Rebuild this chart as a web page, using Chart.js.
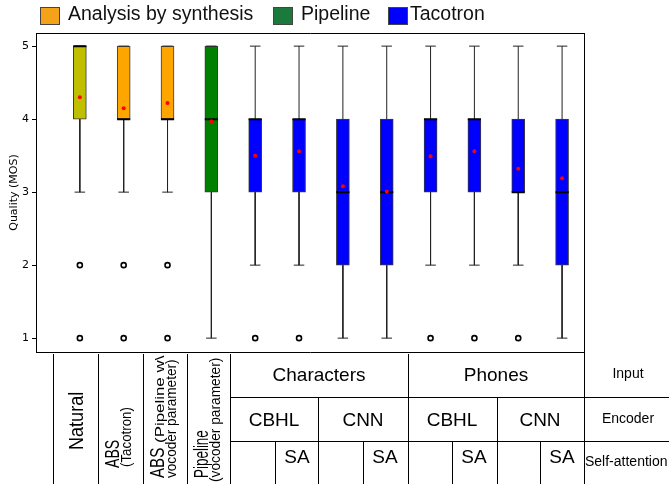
<!DOCTYPE html>
<html><head><meta charset="utf-8">
<script src="https://cdn.jsdelivr.net/npm/chart.js@4.4.1/dist/chart.umd.min.js"></script>
<style>
html,body{margin:0;padding:0;background:#fff;}
#wrap{position:relative;width:669px;height:484px;overflow:hidden;font-family:"Liberation Sans",Arial,sans-serif;color:#000;}
#c{position:absolute;left:0;top:0;}
.sq{position:absolute;width:18px;height:16px;border:1px solid #444;}
.lt{position:absolute;font-size:19.5px;line-height:19px;white-space:nowrap;color:#111;}
.vl{position:absolute;width:1px;background:#000;}
.hl{position:absolute;height:1px;background:#000;}
.t{position:absolute;white-space:nowrap;line-height:1;transform:translate(-50%,-50%);}
.r{position:absolute;white-space:nowrap;transform-origin:0 0;}
</style></head>
<body><div id="wrap">
<canvas id="c" width="669" height="484"></canvas>

<div class="sq" style="left:40px;top:7px;background:#F5A21B"></div>
<div class="lt" style="left:68px;top:4px">Analysis by synthesis</div>
<div class="sq" style="left:273px;top:7px;background:#1B7A3B"></div>
<div class="lt" style="left:301px;top:4px">Pipeline</div>
<div class="sq" style="left:388px;top:7px;background:#0000FF"></div>
<div class="lt" style="left:410px;top:4px">Tacotron</div>

<div class="vl" style="left:53px;top:354px;height:130px"></div>
<div class="vl" style="left:98px;top:354px;height:130px"></div>
<div class="vl" style="left:143px;top:354px;height:130px"></div>
<div class="vl" style="left:187px;top:354px;height:130px"></div>
<div class="vl" style="left:230px;top:354px;height:130px"></div>
<div class="vl" style="left:408px;top:354px;height:130px"></div>
<div class="vl" style="left:584px;top:352px;height:132px"></div>
<div class="vl" style="left:318px;top:397px;height:87px"></div>
<div class="vl" style="left:497px;top:397px;height:87px"></div>
<div class="vl" style="left:275px;top:441px;height:43px"></div>
<div class="vl" style="left:363px;top:441px;height:43px"></div>
<div class="vl" style="left:452px;top:441px;height:43px"></div>
<div class="vl" style="left:540px;top:441px;height:43px"></div>
<div class="hl" style="left:230px;top:397px;width:439px"></div>
<div class="hl" style="left:230px;top:441px;width:439px"></div>

<div class="t" style="left:319px;top:374px;font-size:19px">Characters</div>
<div class="t" style="left:496px;top:374px;font-size:19px">Phones</div>
<div class="t" style="left:628px;top:373px;font-size:14px">Input</div>
<div class="t" style="left:274px;top:419px;font-size:19px">CBHL</div>
<div class="t" style="left:363px;top:419px;font-size:19px">CNN</div>
<div class="t" style="left:452px;top:419px;font-size:19px">CBHL</div>
<div class="t" style="left:540px;top:419px;font-size:19px">CNN</div>
<div class="t" style="left:628px;top:418px;font-size:14px">Encoder</div>
<div class="t" style="left:297px;top:456px;font-size:19px">SA</div>
<div class="t" style="left:385px;top:456px;font-size:19px">SA</div>
<div class="t" style="left:474px;top:456px;font-size:19px">SA</div>
<div class="t" style="left:562px;top:456px;font-size:19px">SA</div>
<div class="t" style="left:585px;top:461px;font-size:14px;transform:translate(0,-50%)">Self-attention</div>

<div class="r" style="left:75px;top:450px;font-size:21px;line-height:21px;transform:rotate(-90deg) translate(0,-50%) scaleX(0.86)">Natural</div>
<div class="r" style="left:111px;top:468px;font-size:21px;line-height:21px;transform:rotate(-90deg) translate(0,-50%) scaleX(0.67)">ABS</div>
<div class="r" style="left:126px;top:467px;font-size:14px;line-height:14px;transform:rotate(-90deg) translate(0,-50%) scaleX(0.95)">(Tacotron)</div>
<div class="r" style="left:156px;top:478px;font-size:21px;line-height:21px;transform:rotate(-90deg) translate(0,-50%) scaleX(0.72)">ABS</div>
<div class="r" style="left:159px;top:443px;font-size:13px;line-height:13px;transform:rotate(-90deg) translate(0,-50%) scaleX(1.3)">(Pipeline w\</div>
<div class="r" style="left:171px;top:478px;font-size:14px;line-height:14px;transform:rotate(-90deg) translate(0,-50%) scaleX(0.97)">vocoder parameter)</div>
<div class="r" style="left:200px;top:478px;font-size:21px;line-height:21px;transform:rotate(-90deg) translate(0,-50%) scaleX(0.64)">Pipeline</div>
<div class="r" style="left:215px;top:482px;font-size:14px;line-height:14px;transform:rotate(-90deg) translate(0,-50%) scaleX(0.98)">(vocoder parameter)</div>
</div>
<script>
// ---- data ----
const categories = ['Natural','ABS (Tacotron)','ABS (Pipeline w\\ vocoder parameter)','Pipeline (vocoder parameter)',
  'Characters CBHL','Characters CBHL SA','Characters CNN','Characters CNN SA',
  'Phones CBHL','Phones CBHL SA','Phones CNN','Phones CNN SA'];
const q1 =          [4,4,4,3,3,3,2,2,3,3,3,2];
const q3 =          [5,5,5,5,4,4,4,4,4,4,4,4];
const medians =     [5,4,4,4,4,4,3,3,4,4,3,3];
const whiskerLow =  [3,3,3,1,2,2,1,1,2,2,2,1];
const whiskerHigh = [5,5,5,5,5,5,5,5,5,5,5,5];
const means =       [4.30,4.15,4.22,3.97,3.50,3.56,3.08,3.01,3.49,3.56,3.32,3.19];
const outliers =    [[2,1],[2,1],[2,1],[],[1],[1],[],[],[1],[1],[1],[]];
const boxColors =   ['#BFBF00','#FFA500','#FFA500','#008000','#0000FF','#0000FF','#0000FF','#0000FF','#0000FF','#0000FF','#0000FF','#0000FF'];
const yTicks = [1,2,3,4,5];

const CAP = 0.12, HALF = 0.15;
const pos = categories.map((c,i)=>i+1);
const boxData = pos.map((x,i)=>({x, y:[q1[i], q3[i]]}));
const whiskerData = [];
pos.forEach((x,i)=>{
  whiskerData.push({x, y:q1[i]},{x, y:whiskerLow[i]},{x, y:null});
  whiskerData.push({x:x-CAP, y:whiskerLow[i]},{x:x+CAP, y:whiskerLow[i]},{x, y:null});
  if (whiskerHigh[i] > q3[i]) whiskerData.push({x, y:q3[i]},{x, y:whiskerHigh[i]},{x, y:null});
  whiskerData.push({x:x-CAP, y:whiskerHigh[i]},{x:x+CAP, y:whiskerHigh[i]},{x, y:null});
});
const medianData = [];
pos.forEach((x,i)=>{ medianData.push({x:x-HALF, y:medians[i]},{x:x+HALF, y:medians[i]},{x, y:null}); });
const meanData = pos.map((x,i)=>({x, y:means[i]}));
const outlierData = [];
pos.forEach((x,i)=>outliers[i].forEach(v=>outlierData.push({x, y:v})));

new Chart(document.getElementById('c'), {
  data: { datasets: [
    { type:'bar', label:'box', data:boxData, xAxisID:'x', yAxisID:'y', order:5,
      backgroundColor:boxColors, borderColor:'#3a3a3a', borderWidth:1, borderSkipped:false, barThickness:13 },
    { type:'line', label:'whiskers', data:whiskerData, xAxisID:'x', yAxisID:'y', order:4,
      borderColor:'#222', borderWidth:1, pointRadius:0, spanGaps:false, tension:0 },
    { type:'line', label:'medians', data:medianData, xAxisID:'x', yAxisID:'y', order:3,
      borderColor:'#000', borderWidth:2, pointRadius:0, spanGaps:false, tension:0 },
    { type:'scatter', label:'outliers', data:outlierData, xAxisID:'x', yAxisID:'y', order:2,
      pointRadius:2.5, pointBorderWidth:1.6, pointBorderColor:'#000', pointBackgroundColor:'#fff' },
    { type:'scatter', label:'means', data:meanData, xAxisID:'x', yAxisID:'y', order:1,
      pointRadius:2, pointBorderWidth:0, pointBackgroundColor:'#FF0000', pointBorderColor:'#FF0000' }
  ]},
  options: {
    responsive:false, animation:false,
    layout:{padding:{top:33,right:85,bottom:132,left:0}},
    plugins:{legend:{display:false}, tooltip:{enabled:false}},
    scales:{
      x:{type:'linear', position:'bottom', min:0, max:12.5, offset:false,
         ticks:{display:false}, grid:{display:false, offset:false}, border:{display:true,color:'#000',width:1},
         afterFit(s){s.height=0;}},
      xTop:{type:'linear', position:'top', min:0, max:12.5, offset:false,
         ticks:{display:false}, grid:{display:false}, border:{display:true,color:'#000',width:1},
         afterFit(s){s.height=0;}},
      y:{type:'linear', position:'left', min:0.81, max:5.18,
         afterBuildTicks(s){ s.ticks = yTicks.map(v=>({value:v})); },
         ticks:{font:{family:'DejaVu Sans',size:11}, color:'#000', padding:3},
         grid:{drawOnChartArea:false, drawTicks:true, tickLength:4, color:'#000'},
         border:{display:true,color:'#000',width:1},
         title:{display:true, text:'Quality (MOS)', font:{family:'DejaVu Sans',size:11}, color:'#000', padding:{top:8,bottom:0}},
         afterFit(s){s.width=36;}},
      yRight:{type:'linear', position:'right', min:0.81, max:5.18,
         ticks:{display:false}, grid:{display:false}, border:{display:true,color:'#000',width:1},
         afterFit(s){s.width=0;}}
    }
  }
});
</script>
</body></html>
